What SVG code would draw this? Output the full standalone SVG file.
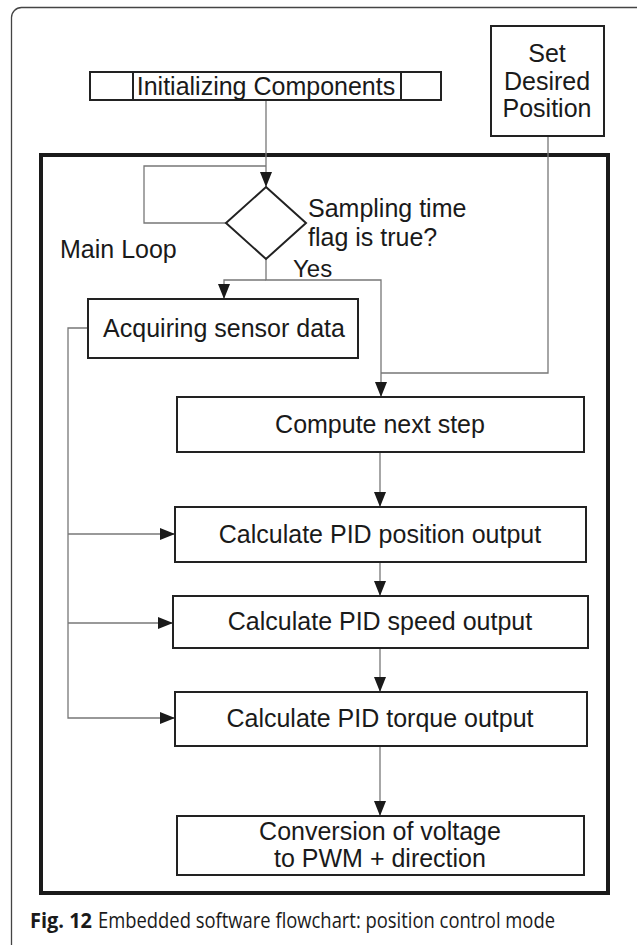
<svg xmlns="http://www.w3.org/2000/svg" width="637" height="945" viewBox="0 0 637 945">
<style>
.box{fill:#fff;stroke:#222;stroke-width:2}
.t{font-family:"Liberation Sans",Arial,sans-serif;font-size:25px;fill:#1a1a1a}
.c{text-anchor:middle}
.ln{fill:none;stroke:#777;stroke-width:1.3}
.cap{font-family:"Open Sans","Noto Sans",sans-serif;font-size:21px;fill:#1a1a1a}
</style>
<defs>
<marker id="ah" viewBox="0 0 15 12" refX="15" refY="6" markerWidth="15" markerHeight="12" markerUnits="userSpaceOnUse" orient="auto">
<path d="M0,0 L15,6 L0,12 Z" fill="#1a1a1a"/>
</marker>
</defs>
<rect width="637" height="945" fill="#fff"/>
<rect x="11.5" y="7.5" width="640" height="960" rx="10" fill="none" stroke="#444" stroke-width="1.3"/>
<rect id="mainloop" x="41" y="155" width="567" height="738" fill="none" stroke="#1a1a1a" stroke-width="4"/>
<g id="connectors">
<path class="ln" d="M266,100 V187" marker-end="url(#ah)"/>
<path class="ln" d="M226,223 H144 V166 H266"/>
<path class="ln" d="M266,259 V280 H381 V397" marker-end="url(#ah)"/>
<path class="ln" d="M266,280 H224 V299" marker-end="url(#ah)"/>
<path class="ln" d="M548,136 V373 H381"/>
<path class="ln" d="M380,452 V507" marker-end="url(#ah)"/>
<path class="ln" d="M380,562 V596" marker-end="url(#ah)"/>
<path class="ln" d="M380,648 V692" marker-end="url(#ah)"/>
<path class="ln" d="M380,746 V816" marker-end="url(#ah)"/>
<path class="ln" d="M88,328 H68 V718 H175" marker-end="url(#ah)"/>
<path class="ln" d="M68,534 H175" marker-end="url(#ah)"/>
<path class="ln" d="M68,623 H173" marker-end="url(#ah)"/>
</g>
<g id="init">
<rect class="box" x="90" y="72" width="351" height="28"/>
<line x1="133" y1="72" x2="133" y2="100" stroke="#222" stroke-width="2"/>
<line x1="401" y1="72" x2="401" y2="100" stroke="#222" stroke-width="2"/>
<text class="t c" x="266" y="95">Initializing Components</text>
</g>
<g id="setpos">
<rect class="box" x="491" y="26" width="113" height="110"/>
<text class="t c" x="547" y="62">Set</text>
<text class="t c" x="547" y="90">Desired</text>
<text class="t c" x="547" y="117">Position</text>
</g>
<g id="decision">
<polygon class="box" points="266,187 306,223 266,259 226,223"/>
<text class="t" x="308" y="217">Sampling time</text>
<text class="t" x="308" y="246">flag is true?</text>
<text class="t" x="293" y="277" style="font-size:24px">Yes</text>
</g>
<text id="mainlooplabel" class="t" x="60" y="258">Main Loop</text>
<g id="acquire">
<rect class="box" x="88" y="299" width="270" height="59"/>
<text class="t c" x="224" y="337">Acquiring sensor data</text>
</g>
<g id="compute">
<rect class="box" x="177" y="397" width="407" height="55"/>
<text class="t c" x="380" y="433">Compute next step</text>
</g>
<g id="pidpos">
<rect class="box" x="175" y="507" width="411" height="55"/>
<text class="t c" x="380" y="543">Calculate PID position output</text>
</g>
<g id="pidspeed">
<rect class="box" x="173" y="596" width="415" height="52"/>
<text class="t c" x="380" y="630">Calculate PID speed output</text>
</g>
<g id="pidtorque">
<rect class="box" x="175" y="692" width="412" height="54"/>
<text class="t c" x="380" y="727">Calculate PID torque output</text>
</g>
<g id="conversion">
<rect class="box" x="177" y="816" width="407" height="59"/>
<text class="t c" x="380" y="840">Conversion of voltage</text>
<text class="t c" x="380" y="867">to PWM + direction</text>
</g>
<g id="caption">
<text class="cap" x="30" y="928" font-weight="bold" textLength="62" lengthAdjust="spacingAndGlyphs">Fig. 12</text>
<text class="cap" x="98" y="928" textLength="457" lengthAdjust="spacingAndGlyphs">Embedded software flowchart: position control mode</text>
</g>
</svg>
